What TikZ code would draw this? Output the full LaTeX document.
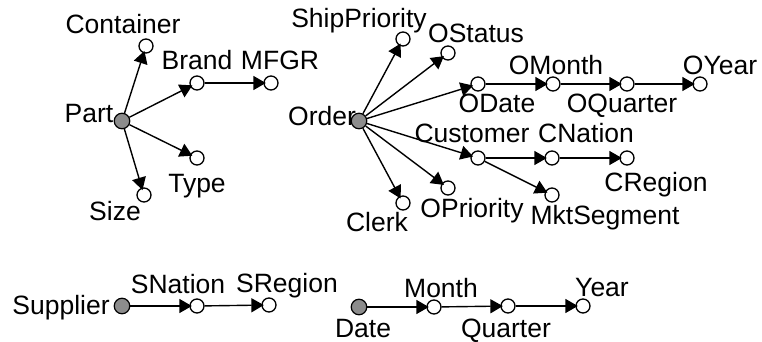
\documentclass[tikz,border=0pt]{standalone}
\usepackage{fontspec}
\setmainfont{Liberation Sans}
\usetikzlibrary{arrows.meta}
\begin{document}
\begin{tikzpicture}[x=1pt,y=-1pt,
  attr/.style={circle,draw=black,line width=1.3pt,fill=white,minimum size=14pt,inner sep=0pt},
  fact/.style={circle,draw=black,line width=1.2pt,fill=black!45,minimum size=15.5pt,inner sep=0pt},
  lbl/.style={inner sep=0pt,font=\fontsize{26.5}{30}\selectfont,text height=19pt,text depth=0pt},
  edge/.style={line width=1.4pt,shorten >=-2.5pt,-{Triangle[length=12.5pt,width=14pt]}}]
\useasboundingbox (0,0) rectangle (762,342);

% Part hierarchy
\node[fact] (part) at (122,121) {};
\node[attr] (container) at (146,46) {};
\node[attr] (brand) at (197,83) {};
\node[attr] (mfgr) at (271,83) {};
\node[attr] (type) at (197,158) {};
\node[attr] (size) at (144,195) {};

% Order hierarchy
\node[fact] (order) at (359,121) {};
\node[attr] (shipprio) at (403,39) {};
\node[attr] (ostatus) at (448,53) {};
\node[attr] (odate) at (478,84) {};
\node[attr] (omonth) at (553,84) {};
\node[attr] (oquarter) at (627,84) {};
\node[attr] (oyear) at (700,84) {};
\node[attr] (customer) at (478,158) {};
\node[attr] (cnation) at (552,158) {};
\node[attr] (cregion) at (627,158) {};
\node[attr] (mktseg) at (552,195) {};
\node[attr] (oprio) at (448,188) {};
\node[attr] (clerk) at (403,203) {};

% Supplier hierarchy
\node[fact] (supplier) at (122,306) {};
\node[attr] (snation) at (197,306) {};
\node[attr] (sregion) at (269,305) {};

% Date hierarchy
\node[fact] (date) at (359,307) {};
\node[attr] (month) at (434,307) {};
\node[attr] (quarter) at (508,306) {};
\node[attr] (year) at (583,306) {};

% Labels
\node[lbl] (tpart) at (89,113) {Part};
\node[lbl] (tcontainer) at (123,24) {Container};
\node[lbl] (tbrand) at (197,60) {Brand};
\node[lbl] (tmfgr) at (280,60) {MFGR};
\node[lbl] (ttype) at (197,183) {Type};
\node[lbl] (tsize) at (115,211) {Size};

\node[lbl] (torder) at (322,116) {Order};
\node[lbl] (tshipprio) at (359,18) {ShipPriority};
\node[lbl] (tostatus) at (476,33) {OStatus};
\node[lbl] (todate) at (497,103) {ODate};
\node[lbl] (tomonth) at (556,65) {OMonth};
\node[lbl] (toquarter) at (622,103) {OQuarter};
\node[lbl] (toyear) at (720,65) {OYear};
\node[lbl] (tcustomer) at (472,133) {Customer};
\node[lbl] (tcnation) at (586,133) {CNation};
\node[lbl] (tcregion) at (656,182) {CRegion};
\node[lbl] (tmktseg) at (605,215) {MktSegment};
\node[lbl] (toprio) at (472,208) {OPriority};
\node[lbl] (tclerk) at (377,222) {Clerk};

\node[lbl] (tsupplier) at (61,305) {Supplier};
\node[lbl] (tsnation) at (178,284) {SNation};
\node[lbl] (tsregion) at (287,283) {SRegion};

\node[lbl] (tdate) at (363,328) {Date};
\node[lbl] (tmonth) at (441,288) {Month};
\node[lbl] (tquarter) at (506,328) {Quarter};
\node[lbl] (tyear) at (602,287) {Year};

% Connectors
\draw[edge] (part) -- (container);
\draw[edge] (part) -- (brand);
\draw[edge] (brand) -- (mfgr);
\draw[edge] (part) -- (type);
\draw[edge] (part) -- (size);

\draw[edge] (order) -- (shipprio);
\draw[edge] (order) -- (ostatus);
\draw[edge] (order) -- (odate);
\draw[edge] (odate) -- (omonth);
\draw[edge] (omonth) -- (oquarter);
\draw[edge] (oquarter) -- (oyear);
\draw[edge] (order) -- (customer);
\draw[edge] (customer) -- (cnation);
\draw[edge] (cnation) -- (cregion);
\draw[edge] (customer) -- (mktseg);
\draw[edge] (order) -- (oprio);
\draw[edge] (order) -- (clerk);

\draw[edge] (supplier) -- (snation);
\draw[edge] (snation) -- (sregion);

\draw[edge] (date) -- (month);
\draw[edge] (month) -- (quarter);
\draw[edge] (quarter) -- (year);
\end{tikzpicture}
\end{document}
